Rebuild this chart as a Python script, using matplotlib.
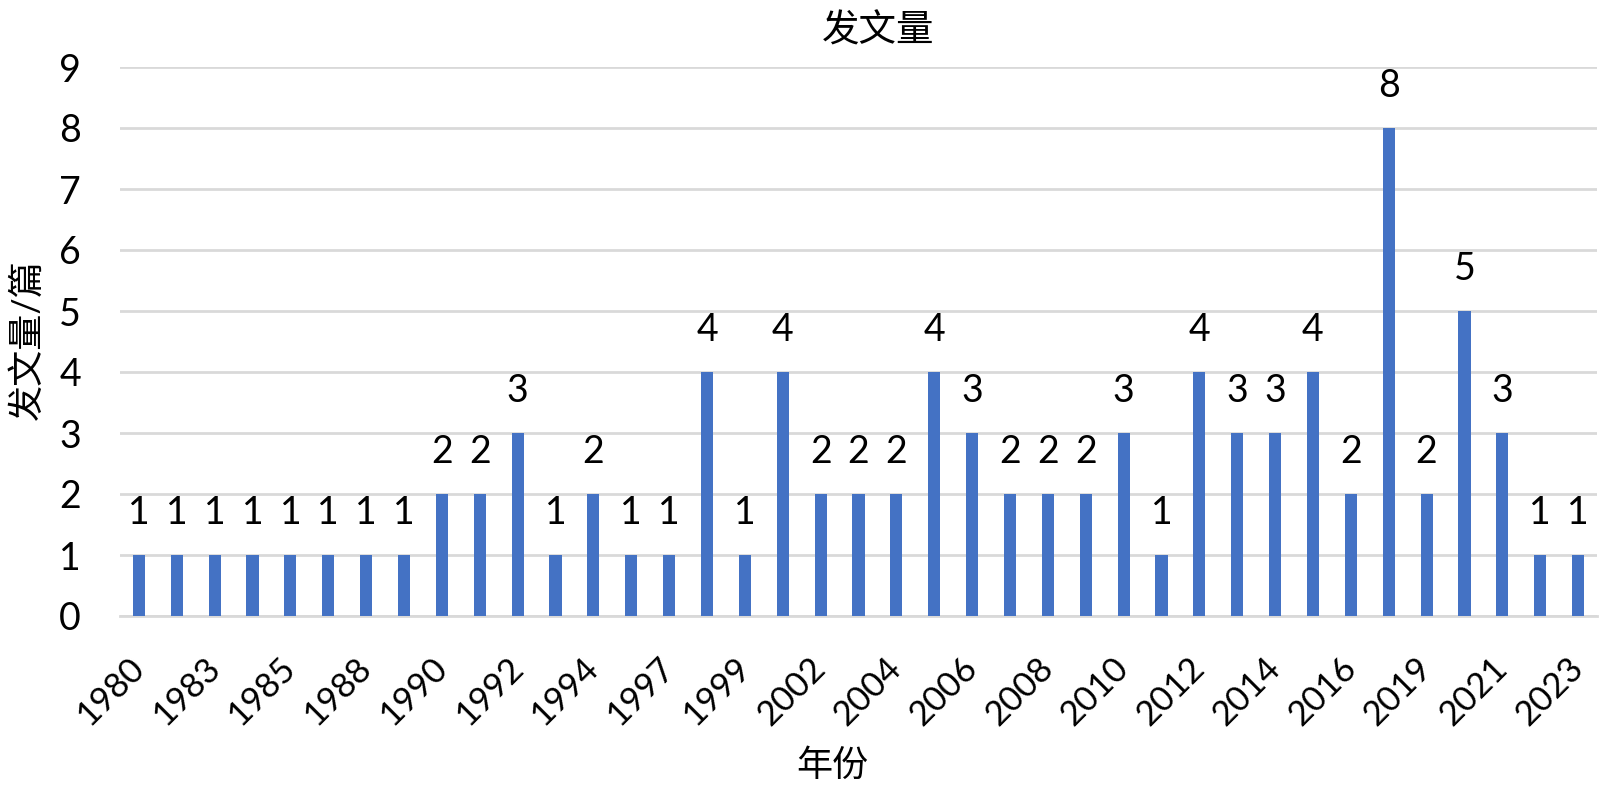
import numpy as np
import matplotlib.pyplot as plt

years = ['1980', '1982', '1983', '1984', '1985', '1987', '1988', '1989', '1990', '1991',
         '1992', '1993', '1994', '1996', '1997', '1998', '1999', '2000', '2002', '2003',
         '2004', '2005', '2006', '2007', '2008', '2009', '2010', '2011', '2012', '2013',
         '2014', '2015', '2016', '2018', '2019', '2020', '2021', '2022', '2023']
counts = [1, 1, 1, 1, 1, 1, 1, 1, 2, 2,
          3, 1, 2, 1, 1, 4, 1, 4, 2, 2,
          2, 4, 3, 2, 2, 2, 3, 1, 4, 3,
          3, 4, 2, 8, 2, 5, 3, 1, 1]

plt.rcParams['font.family'] = ['Lato', 'Noto Sans CJK SC', 'DejaVu Sans']

fig = plt.figure(figsize=(16, 7.92), dpi=100)
ax = fig.add_axes([120 / 1600, 1 - 616 / 792, 1477 / 1600, 549 / 792])

x = np.arange(len(years))
ax.bar(x, counts, width=0.32, color='#4472C4', zorder=3)

for xi, v in zip(x, counts):
    ax.annotate(str(v), (xi, v), xytext=(0, 17), textcoords='offset points',
                ha='center', va='bottom', fontsize=27)

ax.set_xlim(-0.5, len(years) - 0.5)
ax.set_ylim(0, 9)
ax.set_yticks(range(10))
ax.tick_params(axis='y', labelsize=27, length=0, pad=36)
ax.set_xticks(x[::2])
ax.set_xticklabels(years[::2], rotation=45, ha='right', va='center',
                   rotation_mode='anchor', fontsize=25)
ax.tick_params(axis='x', length=0, pad=34)
for lab in ax.get_yticklabels():
    lab.set_horizontalalignment('center')

ax.grid(axis='y', color='#D9D9D9', linewidth=2, zorder=0)
for s in ['top', 'right', 'left']:
    ax.spines[s].set_visible(False)
ax.spines['bottom'].set_color('#D9D9D9')
ax.spines['bottom'].set_linewidth(2)

fig.text(878 / 1600, 1 - 31 / 792, '发文量', ha='center', va='center', fontsize=27)
fig.text(832 / 1600, 1 - 765 / 792, '年份', ha='center', va='center', fontsize=26)
fig.text(27 / 1600, 1 - 340 / 792, '发文量/篇', ha='center', va='center', rotation=90, fontsize=26)

fig.savefig('out.png', dpi=100)
